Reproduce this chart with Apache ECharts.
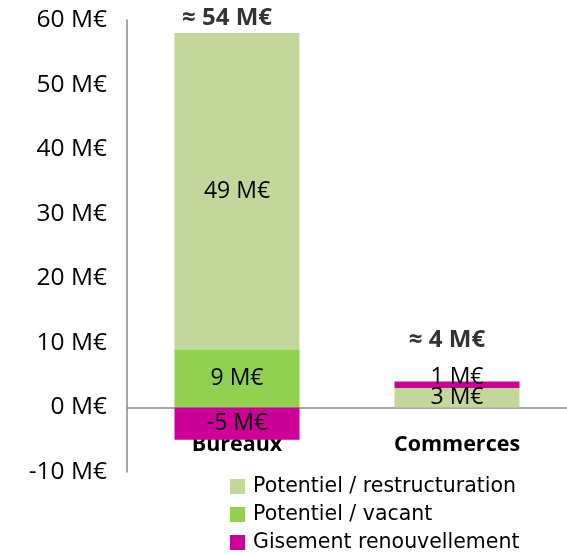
<!DOCTYPE html>
<html>
<head>
<meta charset="utf-8">
<script src="https://cdn.jsdelivr.net/npm/echarts@6/dist/echarts.min.js"></script>
<style>
  html, body { margin: 0; padding: 0; background: #ffffff; }
  #chart { width: 567px; height: 555px; }
</style>
</head>
<body>
<div id="chart"></div>
<script>
// Categories and values (M€)
const categories = ['Bureaux', 'Commerces'];
const vacant = [9, 0];
const restructuration = [49, 3];
const gisement = [-5, 1];
const totals = [54, 4];

const seriesNames = ['Potentiel / restructuration', 'Potentiel / vacant', 'Gisement renouvellement'];
const colors = {
  restructuration: '#c4d79b',
  vacant: '#92d050',
  gisement: '#cc0099'
};

const labelFont = 'Open Sans';
const axisColor = '#898989';

function valueLabel(p) {
  return p.value === 0 ? '' : p.value + ' M€';
}

const barLabel = {
  show: true,
  position: 'inside',
  formatter: valueLabel,
  color: '#000',
  fontFamily: labelFont,
  fontSize: 23
};

const chart = echarts.init(document.getElementById('chart'), null, { renderer: 'canvas' });

chart.setOption({
  backgroundColor: '#ffffff',
  animation: false,
  grid: { left: 127, right: 0, top: 20, bottom: 83 },
  legend: {
    data: seriesNames,
    orient: 'vertical',
    left: 230,
    top: 476,
    padding: 0,
    icon: 'rect',
    itemWidth: 15,
    itemHeight: 15,
    itemGap: 7,
    textStyle: {
      fontFamily: 'DejaVu Sans',
      fontSize: 20.5,
      color: '#000',
      lineHeight: 20,
      padding: [0, 0, 0, 3]
    }
  },
  xAxis: {
    type: 'category',
    data: categories,
    axisLine: { onZero: true, lineStyle: { color: axisColor, width: 1.5 } },
    axisTick: { show: false },
    axisLabel: {
      margin: -38,
      color: '#000',
      fontFamily: labelFont,
      fontWeight: 'bold',
      fontSize: 21.5
    }
  },
  yAxis: {
    type: 'value',
    min: -10,
    max: 60,
    interval: 10,
    axisLine: { show: true, lineStyle: { color: axisColor, width: 1.5 } },
    axisTick: { show: false },
    splitLine: { show: false },
    axisLabel: {
      formatter: '{value} M€',
      margin: 20,
      color: '#000',
      fontFamily: labelFont,
      fontSize: 24.5
    }
  },
  series: [
    {
      name: seriesNames[1],
      type: 'bar',
      stack: 'total',
      barWidth: 125,
      data: vacant,
      itemStyle: { color: colors.vacant },
      label: barLabel
    },
    {
      name: seriesNames[0],
      type: 'bar',
      stack: 'total',
      barWidth: 125,
      data: restructuration,
      itemStyle: { color: colors.restructuration },
      label: barLabel
    },
    {
      name: seriesNames[2],
      type: 'bar',
      stack: 'total',
      barWidth: 125,
      data: gisement.map(function (v) {
        // the thin positive slice carries its label just above the bar
        return v > 0 && v < 2 ? { value: v, label: { offset: [0, -7] } } : v;
      }),
      itemStyle: { color: colors.gisement },
      label: barLabel
    },
    {
      name: 'total',
      type: 'scatter',
      data: totals,
      symbolSize: 1,
      itemStyle: { color: 'rgba(0,0,0,0)' },
      silent: true,
      z: 5,
      label: {
        show: true,
        position: 'inside',
        offset: [-10, -41],
        formatter: function (p) { return '≈ ' + p.value + ' M€'; },
        color: '#000',
        fontFamily: labelFont,
        fontWeight: 'bold',
        fontSize: 24
      }
    }
  ]
});
</script>
</body>
</html>
